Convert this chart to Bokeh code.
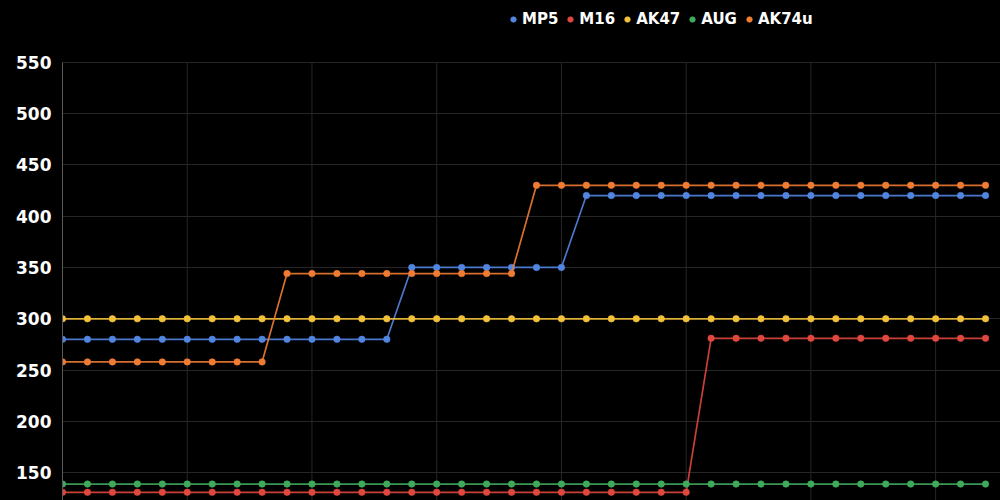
from bokeh.plotting import figure
from bokeh.models import Legend, LegendItem, FixedTicker, Range1d
from bokeh.embed import file_html
from bokeh.resources import INLINE

# ---- data ----
steps = list(range(38))
mp5 = [280, 280, 280, 280, 280, 280, 280, 280, 280, 280, 280, 280, 280, 280,
       350, 350, 350, 350, 350, 350, 350,
       420, 420, 420, 420, 420, 420, 420, 420, 420, 420, 420, 420, 420, 420, 420, 420, 420]
m16 = [131, 131, 131, 131, 131, 131, 131, 131, 131, 131, 131, 131, 131, 131, 131, 131,
       131, 131, 131, 131, 131, 131, 131, 131, 131, 131,
       281, 281, 281, 281, 281, 281, 281, 281, 281, 281, 281, 281]
ak47 = [300, 300, 300, 300, 300, 300, 300, 300, 300, 300, 300, 300, 300, 300, 300, 300,
        300, 300, 300, 300, 300, 300, 300, 300, 300, 300, 300, 300, 300, 300, 300, 300,
        300, 300, 300, 300, 300, 300]
aug = [139, 139, 139, 139, 139, 139, 139, 139, 139, 139, 139, 139, 139, 139, 139, 139,
       139, 139, 139, 139, 139, 139, 139, 139, 139, 139, 139, 139, 139, 139, 139, 139,
       139, 139, 139, 139, 139, 139]
ak74u = [258, 258, 258, 258, 258, 258, 258, 258, 258,
         344, 344, 344, 344, 344, 344, 344, 344, 344, 344,
         430, 430, 430, 430, 430, 430, 430, 430, 430, 430, 430, 430, 430, 430, 430, 430,
         430, 430, 430]
names = ["MP5", "M16", "AK47", "AUG", "AK74u"]
colors = ["#5285e0", "#e0473e", "#f2c13a", "#3faa5c", "#f07b33"]
series = [mp5, m16, ak47, aug, ak74u]
y_ticks = [150, 200, 250, 300, 350, 400, 450, 500, 550]
x_grid_ticks = [0, 5, 10, 15, 20, 25, 30, 35]
y_min, y_max = 123, 550

grid_col = "#262626"

p = figure(width=1000, height=500, output_backend="svg", toolbar_location=None,
           x_range=Range1d(0, 37.6), y_range=Range1d(y_min, 610),
           min_border_left=62, min_border_top=0, min_border_right=0, min_border_bottom=0,
           background_fill_color="black", border_fill_color="black",
           outline_line_color=None)

p.xaxis.visible = False
p.xgrid.visible = False
p.ygrid.ticker = FixedTicker(ticks=y_ticks)
p.ygrid.grid_line_color = grid_col

# vertical grid lines limited to the value range
p.segment(x0=x_grid_ticks, y0=[y_min] * len(x_grid_ticks),
          x1=x_grid_ticks, y1=[y_max] * len(x_grid_ticks),
          line_color=grid_col, line_width=1)

p.yaxis.ticker = FixedTicker(ticks=y_ticks)
p.yaxis.bounds = (y_min, y_max)
p.yaxis.major_label_text_color = "white"
p.yaxis.major_label_text_font = "DejaVu Sans"
p.yaxis.major_label_text_font_style = "bold"
p.yaxis.major_label_text_font_size = "17px"
p.yaxis.major_tick_line_color = None
p.yaxis.minor_tick_line_color = None
p.yaxis.axis_line_color = "#5a5a5a"
p.yaxis.major_label_standoff = 5

items = []
for name, col, ys in zip(names, colors, series):
    p.line(steps, ys, line_color=col, line_width=1.7, line_alpha=0.9)
    r = p.scatter(steps, ys, size=6.5, fill_color=col, line_color=col, line_alpha=0.6)
    items.append(LegendItem(label=name, renderers=[r]))

legend = Legend(items=items, orientation="horizontal", location=(444, 472),
                background_fill_alpha=0, border_line_color=None,
                label_text_color="white", label_text_font="DejaVu Sans",
                label_text_font_style="bold", label_text_font_size="15px",
                glyph_width=14, glyph_height=14, label_standoff=2, spacing=5,
                padding=0, margin=0)
p.add_layout(legend)

html = file_html(p, INLINE)
html = html.replace("<head>", "<head><style>html,body{background:#000;overflow:hidden;}</style>", 1)
open("out.html", "w").write(html)
